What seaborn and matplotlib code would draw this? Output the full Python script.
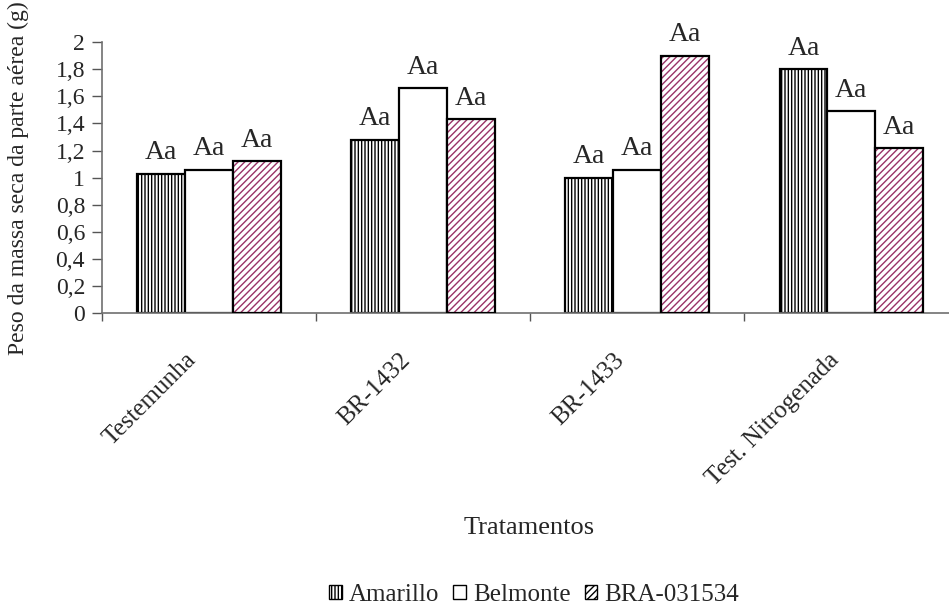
import matplotlib
matplotlib.use("Agg")
import matplotlib.pyplot as plt
import matplotlib.transforms as mtransforms
from matplotlib.patches import Patch, Rectangle
import numpy as np
import pandas as pd
import seaborn as sns

# Dry shoot mass per treatment and cultivar
tratamentos = ["Testemunha", "BR-1432", "BR-1433", "Test. Nitrogenada"]
cultivares = ["Amarillo", "Belmonte", "BRA-031534"]
amarillo = [1.03, 1.28, 1.00, 1.80]
belmonte = [1.06, 1.66, 1.06, 1.49]
bra_031534 = [1.12, 1.43, 1.90, 1.22]
letras = ["Aa", "Aa", "Aa", "Aa"]
y_ticks = [0, 0.2, 0.4, 0.6, 0.8, 1.0, 1.2, 1.4, 1.6, 1.8, 2.0]
y_ticklabels = ["0", "0,2", "0,4", "0,6", "0,8", "1", "1,2", "1,4", "1,6", "1,8", "2"]

df = pd.DataFrame({
    "Tratamento": tratamentos * 3,
    "Cultivar": [c for c in cultivares for _ in tratamentos],
    "Peso": amarillo + belmonte + bra_031534,
})
letter_map = {c: letras for c in cultivares}

sns.set_style("white")
plt.rcParams["font.family"] = ["Liberation Serif", "DejaVu Serif"]
plt.rcParams["hatch.linewidth"] = 1.0

fig = plt.figure(figsize=(9.49, 6.08), dpi=100)
ax = fig.add_axes([0.1072, 0.4844, 0.9028, 0.4465])

sns.barplot(data=df, x="Tratamento", y="Peso", hue="Cultivar",
            order=tratamentos, hue_order=cultivares, width=0.67,
            palette=["white"] * 3, edgecolor="black", linewidth=1.6,
            saturation=1, legend=False, ax=ax)

plum = "#993366"
for cont, cult in zip(ax.containers, cultivares):
    for bar in cont:
        if cult == "Amarillo":
            bar.set_hatch("|||||")
            bar.set_edgecolor("black")
        elif cult == "BRA-031534":
            bar.set_hatch("/////")
            bar.set_edgecolor(plum)
            bar.set_linewidth(0)
            ax.add_patch(Rectangle((bar.get_x(), bar.get_y()), bar.get_width(),
                                   bar.get_height(), fill=False,
                                   edgecolor="black", linewidth=1.6, zorder=3))
    # significance letters above each bar
    ax.bar_label(cont, labels=letter_map[cult], padding=6, fontsize=20)

ax.set_ylim(0, 2)
ax.set_xlim(-0.5, 3.5)
ax.set_yticks(y_ticks)
ax.set_yticklabels(y_ticklabels, fontsize=17)

# category boundaries as ticks, names centred without tick marks
ax.set_xticks(np.arange(-0.5, 4.0, 1.0), minor=True)
ax.set_xticks(range(len(tratamentos)))
ax.set_xticklabels(tratamentos, fontsize=18, rotation=45, ha="right",
                   va="center", rotation_mode="anchor")
ax.tick_params(axis="x", which="major", length=0, pad=31)
ax.tick_params(axis="x", which="minor", length=6, direction="out",
               color="#555555", width=1.0, bottom=True)
ax.tick_params(axis="y", length=7, direction="out", color="#555555",
               width=1.0, pad=5, left=True)
shift = mtransforms.ScaledTranslation(-16 / 100, 0, fig.dpi_scale_trans)
for lab in ax.get_xticklabels():
    lab.set_transform(lab.get_transform() + shift)

for side in ["top", "right"]:
    ax.spines[side].set_visible(False)
for side in ["left", "bottom"]:
    ax.spines[side].set_color("#707070")
    ax.spines[side].set_linewidth(1.2)

ax.set_xlabel("")
ax.set_ylabel("Peso da massa seca da parte aérea (g)", fontsize=17)
ax.yaxis.set_label_coords(-0.085, 0.5)
fig.text(0.558, 0.131, "Tratamentos", fontsize=19, ha="center", va="center")

handles = [
    Patch(facecolor="white", edgecolor="black", hatch="|||||"),
    Patch(facecolor="white", edgecolor="black"),
    Patch(facecolor="white", edgecolor="black", hatch="/////"),
]
fig.legend(handles, cultivares, loc="center", bbox_to_anchor=(0.563, 0.022),
           ncol=3, frameon=False, fontsize=18, handlelength=0.5,
           handleheight=0.5, handletextpad=0.3, columnspacing=0.55,
           borderpad=0.1)

fig.savefig("out.png", dpi=100)
